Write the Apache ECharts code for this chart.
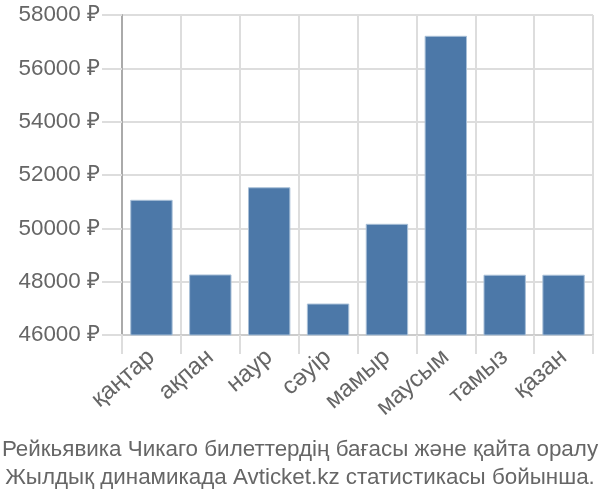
<!DOCTYPE html>
<html><head><meta charset="utf-8">
<script src="https://cdn.jsdelivr.net/npm/echarts@6/dist/echarts.min.js"></script>
<style>html,body{margin:0;padding:0;background:#fff}#c{width:600px;height:500px}</style>
</head><body><div id="c"></div>
<script>
var categories = ['қаңтар','ақпан','наур','сәуір','мамыр','маусым','тамыз','қазан'];
var prices = [51070, 48270, 51540, 47180, 50170, 57220, 48260, 48260];
var yTicks = [46000, 48000, 50000, 52000, 54000, 56000, 58000];
var titleLines = ['Рейкьявика Чикаго билеттердің бағасы және қайта оралу','Жылдық динамикада Avticket.kz статистикасы бойынша.'];

var font = 'Liberation Sans';
var chart = echarts.init(document.getElementById('c'), null, {renderer:'canvas'});
chart.setOption({
  animation:false,
  title:{text:titleLines.join('\n'), left:'center', top:431,
    textStyle:{fontFamily:font, fontSize:22.4, fontWeight:'normal', color:'#666', lineHeight:28}},
  grid:{left:122, right:7, top:15, bottom:165, containLabel:false},
  xAxis:{type:'category', data:categories,
    axisLine:{show:true, lineStyle:{color:'#ccc', width:2}},
    axisTick:{show:true, length:19, lineStyle:{color:'#ddd', width:2}},
    splitLine:{show:true, lineStyle:{color:'#ddd', width:2}},
    axisLabel:{rotate:41, fontFamily:font, fontSize:24, color:'#666', margin:19, interval:0}},
  yAxis:{type:'value', min:yTicks[0], max:yTicks[yTicks.length-1], interval:2000,
    axisLine:{show:true, lineStyle:{color:'#aaa', width:2}},
    axisTick:{show:true, length:20, lineStyle:{color:'#ddd', width:2}},
    splitLine:{show:true, lineStyle:{color:'#ddd', width:2}},
    axisLabel:{fontFamily:font, fontSize:22.4, color:'#666', margin:22,
      formatter:function(v){return v+' ₽';}}},
  series:[{type:'bar', data:prices, barCategoryGap:'28%',
    itemStyle:{color:'#4c78a8', borderColor:'#a9c0d8', borderWidth:1}}]
});
</script></body></html>
